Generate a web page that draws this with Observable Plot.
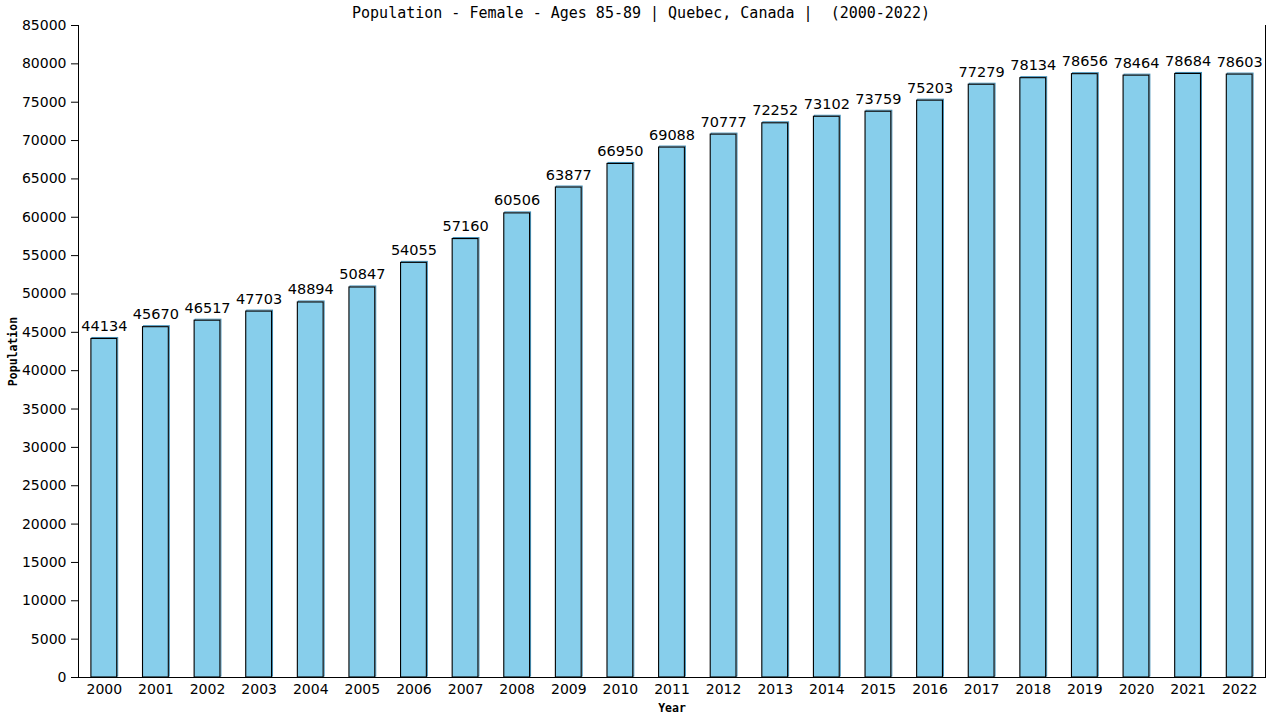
<!DOCTYPE html>
<html><head><meta charset="utf-8">
<script src="https://cdn.jsdelivr.net/npm/d3@7"></script>
<script src="https://cdn.jsdelivr.net/npm/@observablehq/plot@0.6"></script>
<style>
html,body{margin:0;padding:0;background:#fff;}
</style>
</head><body>
<div id="chart"></div>
<script>
const years = ["2000","2001","2002","2003","2004","2005","2006","2007","2008","2009","2010","2011","2012","2013","2014","2015","2016","2017","2018","2019","2020","2021","2022"];
const population = [44134,45670,46517,47703,48894,50847,54055,57160,60506,63877,66950,69088,70777,72252,73102,73759,75203,77279,78134,78656,78464,78684,78603];
const yTicks = d3.range(0, 85001, 5000);
const title = "Population - Female - Ages 85-89 | Quebec, Canada |  (2000-2022)";

const data = years.map((y, i) => ({year: y, value: population[i]}));

const plot = Plot.plot({
  width: 1280,
  height: 720,
  marginLeft: 78,
  marginRight: 15,
  marginTop: 25,
  marginBottom: 43,
  style: {fontFamily: "DejaVu Sans", fontSize: "13px", background: "#fff", color: "#000"},
  x: {domain: years, paddingInner: 0.5, paddingOuter: 0.25, round: false, label: null},
  y: {domain: [0, 85000], label: null},
  marks: [
    Plot.barY(data, {x: "year", y: "value", fill: "none", stroke: "#3f8fb8", strokeWidth: 1, dx: 1, dy: -1}),
    Plot.barY(data, {x: "year", y: "value", fill: "#87CEEB", stroke: "#000", strokeWidth: 1.1}),
    Plot.text(data, {x: "year", y: "value", text: d => String(d.value), lineAnchor: "bottom", dy: -8, fontSize: 14.5, fill: "#000"}),
    Plot.axisY({ticks: yTicks, tickSize: 7, tickPadding: 5, tickFormat: d => String(d), fontSize: 14, label: null}),
    Plot.axisX({tickSize: 0, tickPadding: 7, fontSize: 14, label: null}),
    Plot.frame({anchor: "left", stroke: "#000"}),
    Plot.frame({anchor: "right", stroke: "#000"}),
    Plot.ruleY([0], {stroke: "#000"}),
    Plot.text([title], {frameAnchor: "top", dx: -31, dy: -12, lineAnchor: "middle", fontFamily: "DejaVu Sans Mono", fontSize: 15, fill: "#000"}),
    Plot.text(["Population"], {frameAnchor: "left", dx: -65, rotate: -90, textAnchor: "middle", lineAnchor: "middle", fontFamily: "DejaVu Sans Mono", fontWeight: "bold", fontSize: 11.5, fill: "#000"}),
    Plot.text(["Year"], {frameAnchor: "bottom", dy: 31, lineAnchor: "middle", fontFamily: "DejaVu Sans Mono", fontWeight: "bold", fontSize: 11.5, fill: "#000"})
  ]
});
document.getElementById("chart").appendChild(plot);
</script>
</body></html>
